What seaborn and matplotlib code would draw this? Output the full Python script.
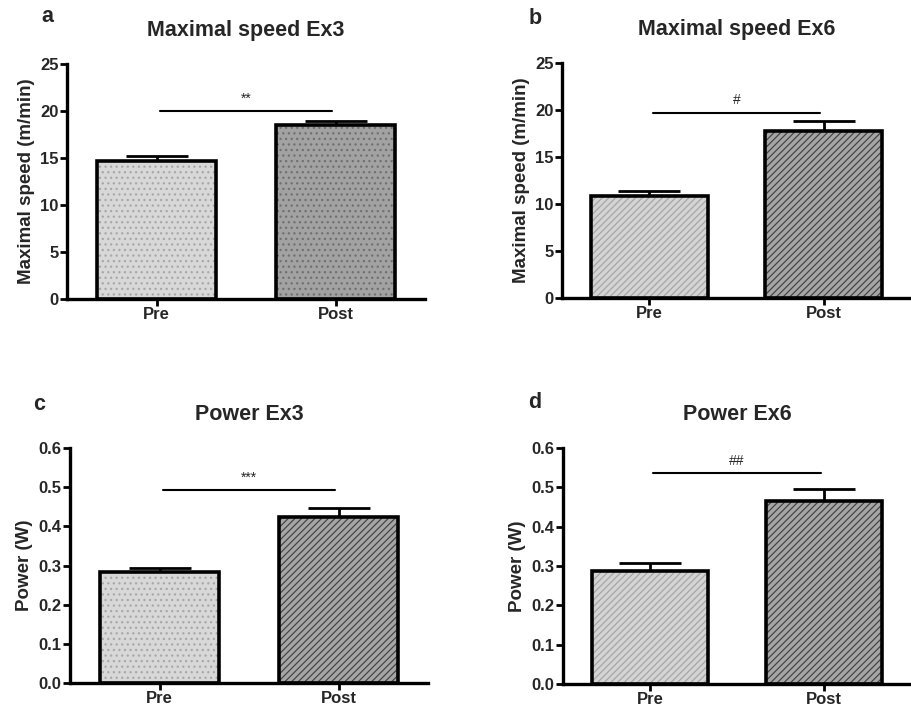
import matplotlib
matplotlib.use("Agg")
import matplotlib.pyplot as plt
import seaborn as sns
import pandas as pd
import numpy as np

sns.set_style("white")
plt.rcParams['font.family'] = ['Liberation Sans', 'DejaVu Sans']
plt.rcParams['hatch.linewidth'] = 0.9

groups = ["Pre", "Post"]

speed_ex3 = [14.7, 18.5]
speed_ex3_err = [0.5, 0.4]
speed_ex6 = [10.8, 17.8]
speed_ex6_err = [0.6, 1.0]
power_ex3 = [0.283, 0.424]
power_ex3_err = [0.011, 0.024]
power_ex6 = [0.288, 0.465]
power_ex6_err = [0.019, 0.031]

titles = ["Maximal speed Ex3", "Maximal speed Ex6", "Power Ex3", "Power Ex6"]
letters = ["a", "b", "c", "d"]
ylabels = ["Maximal speed (m/min)", "Maximal speed (m/min)", "Power (W)", "Power (W)"]
sig_marks = ["**", "#", "***", "##"]
sig_levels = [20.0, 19.7, 0.493, 0.536]
yticks_speed = [0, 5, 10, 15, 20, 25]
yticks_power = [0.0, 0.1, 0.2, 0.3, 0.4, 0.5, 0.6]

LIGHT_DOT = ("#d8d8d8", "#a8a8a8", "...")
DARK_DOT = ("#a2a2a2", "#707070", "...")
LIGHT_HATCH = ("#d4d4d4", "#a6a6a6", "/////")
DARK_HATCH = ("#a6a6a6", "#454545", "/////")
styles = [
    [LIGHT_DOT, DARK_DOT],
    [LIGHT_HATCH, DARK_HATCH],
    [LIGHT_DOT, DARK_HATCH],
    [LIGHT_HATCH, DARK_HATCH],
]

values = [speed_ex3, speed_ex6, power_ex3, power_ex6]
errors = [speed_ex3_err, speed_ex6_err, power_ex3_err, power_ex6_err]
yticks_all = [yticks_speed, yticks_speed, yticks_power, yticks_power]

W, H = 911, 711
# axes boxes in pixels: left, right, top, bottom
boxes = [(67, 425, 64, 299), (562, 911, 63, 298), (70, 428, 448, 683), (563, 911, 448, 684)]
letter_pos = [(47, 17), (535, 19), (39, 405), (535, 402)]
fmt = ["{:.0f}", "{:.0f}", "{:.1f}", "{:.1f}"]

fig = plt.figure(figsize=(W / 100, H / 100), dpi=100)

for i in range(4):
    l, r, t, b = boxes[i]
    ax = fig.add_axes([l / W, 1 - b / H, (r - l) / W, (b - t) / H])
    df = pd.DataFrame({"group": groups, "value": values[i]})
    # error bars (upper only), drawn first so bars cover lower part
    ax.errorbar([0, 1], values[i], yerr=[[0, 0], errors[i]], fmt="none",
                ecolor="black", elinewidth=2, capsize=22, capthick=2, zorder=1)
    sns.barplot(data=df, x="group", y="value", ax=ax, width=0.67,
                linewidth=0, errorbar=None, zorder=2)
    for p, (fc, hc, hatch) in zip(ax.patches, styles[i]):
        p.set_facecolor(fc)
        p.set_edgecolor(hc)
        p.set_hatch(hatch)
        p.set_linewidth(0)
    sns.barplot(data=df, x="group", y="value", ax=ax, width=0.67,
                fill=False, color="black", linewidth=2.6, errorbar=None, zorder=3)
    for p in ax.patches[2:]:
        p.set_facecolor("none")
        p.set_edgecolor("black")
        p.set_linewidth(2.6)
        p.set_hatch(None)

    ax.set_xlim(-0.5, 1.5)
    yt = yticks_all[i]
    ax.set_ylim(yt[0], yt[-1])
    ax.set_yticks(yt)
    ax.set_yticklabels([fmt[i].format(v) for v in yt], fontsize=12, fontweight="bold")
    ax.set_xticks([0, 1])
    ax.set_xticklabels(groups, fontsize=12, fontweight="bold")
    ax.set_xlabel("")
    ax.set_ylabel(ylabels[i], fontsize=13.5, fontweight="bold", labelpad=4)
    for s in ["top", "right"]:
        ax.spines[s].set_visible(False)
    for s in ["left", "bottom"]:
        ax.spines[s].set_linewidth(2.4)
        ax.spines[s].set_color("black")
    ax.tick_params(axis="both", direction="out", length=5, width=2, color="black",
                   pad=1, left=True, bottom=True)
    ax.set_title(titles[i], fontsize=15.5, fontweight="bold", pad=20)

    # significance line
    ax.plot([0.02, 0.98], [sig_levels[i], sig_levels[i]], color="black", lw=1.5,
            clip_on=False, zorder=4)
    ax.annotate(sig_marks[i], xy=(0.5, sig_levels[i]), xytext=(0, 4),
                textcoords="offset points", ha="center", va="bottom", fontsize=10)

    lx, ly = letter_pos[i]
    fig.text(lx / W, 1 - ly / H, letters[i], fontsize=15.5, fontweight="bold",
             ha="center", va="center")

fig.savefig("out.png", dpi=100, facecolor="white")
